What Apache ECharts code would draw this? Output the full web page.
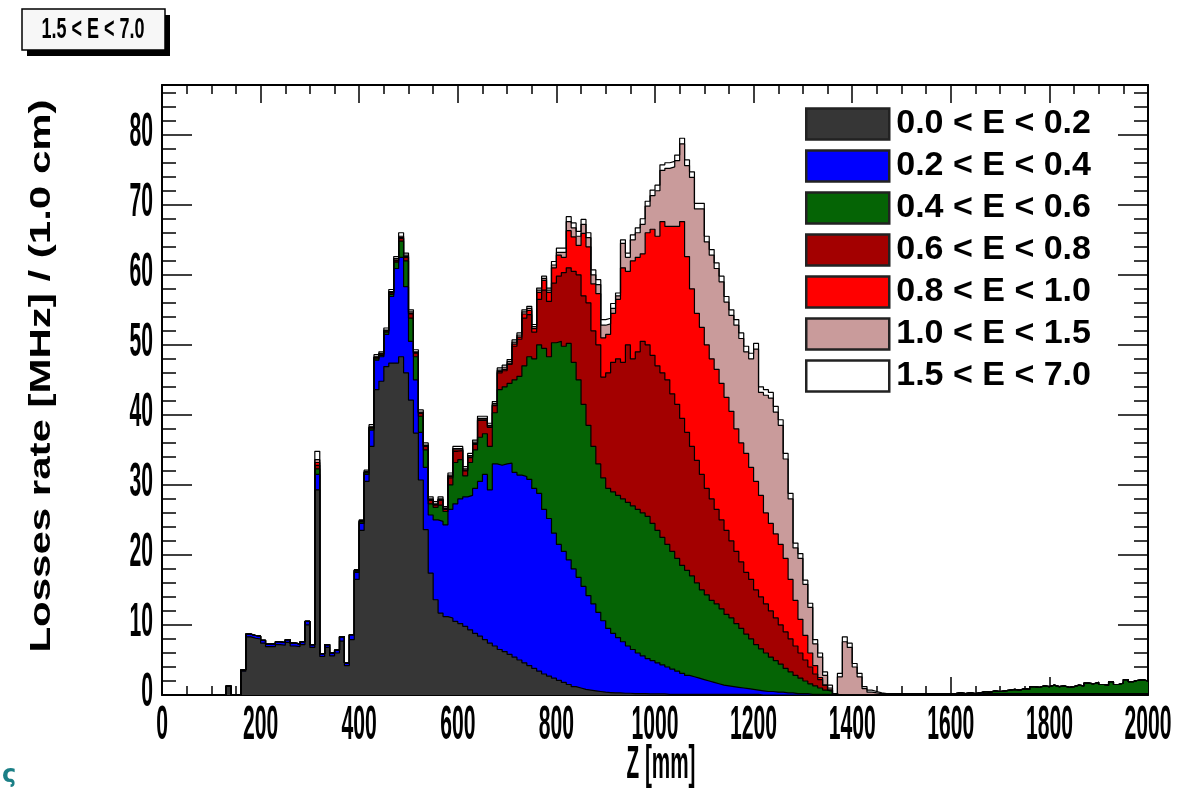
<!DOCTYPE html>
<html>
<head>
<meta charset="utf-8">
<script src="https://cdn.jsdelivr.net/npm/echarts@6/dist/echarts.min.js"></script>
<style>
html, body { margin: 0; padding: 0; background: #ffffff; }
#chart { width: 1201px; height: 789px; }
</style>
</head>
<body>
<div id="chart"></div>
<script>
// histogram bins: 10 mm wide, from Z = 0 to 2000 mm
var binWidth = 10;

var bandNames = ["0.0 < E < 0.2", "0.2 < E < 0.4", "0.4 < E < 0.6", "0.6 < E < 0.8",
	"0.8 < E < 1.0", "1.0 < E < 1.5", "1.5 < E < 7.0"];
var bandColors = ["#363636", "#0000ff", "#056405", "#a30000", "#ff0000", "#c99b9b", "#ffffff"];

var zTickLabels = [0, 200, 400, 600, 800, 1000, 1200, 1400, 1600, 1800, 2000];
var rateTickLabels = [0, 10, 20, 30, 40, 50, 60, 70, 80];

// upper edge of each stacked band (stack totals), one value per bin
var top02 = [
	0,0,0,0,0,0,0,0,0,0, 0,0,0,1.3,0,0,3.4,8.3,8.1,8.0,
	7.4,6.9,6.9,7.2,7.1,7.5,7.0,6.9,7.2,10.0, 6.8,29.3,5.5,6.8,5.6,6.0,7.7,4.2,7.9,16.5,
	23.5,30.5,35.5,43.6,44.8,46.9,47.4,47.4,48.3,46.0, 42.1,37.4,30.7,23.6,17.4,13.6,11.7,11.2,11.0,10.5,
	10.2,9.8,9.3,8.8,8.4,7.9,7.4,7.0,6.5,6.2, 5.8,5.4,5.0,4.6,4.2,3.8,3.4,3.0,2.7,2.4,
	2.1,1.8,1.5,1.2,1.0,0.8,0.7,0.6,0.5,0.4, 0.35,0.3,0.3,0.25,0.25,0.2,0.2,0.2,0.15,0.15,
	0.15,0.15,0.1,0.1,0.1,0.1,0.1,0.1,0.1,0.1, 0.1,0.1,0.1,0.1,0.1,0.1,0.1,0.1,0.1,0.1,
	0.1,0,0,0,0,0,0,0,0,0, 0,0,0,0,0,0,0,0,0,0,
	0,0,0,0,0,0,0.1,0.1,0.1,0.1, 0.1,0.1,0.1,0.1,0.1,0.1,0.1,0.1,0.1,0.1,
	0.1,0.1,0.1,0.1,0.1,0.1,0.1,0.1,0.1,0.1, 0.1,0.1,0.1,0.1,0.1,0.1,0.1,0.1,0.1,0.1,
	0.1,0.1,0.1,0.1,0.1,0.1,0.1,0.1,0.1,0.1, 0.1,0.1,0.1,0.1,0.1,0.1,0.1,0.1,0.1,0.1
];
var top04 = [
	0,0,0,0,0,0,0,0,0,0, 0,0,0,1.3,0,0,3.6,8.7,8.5,8.4,
	7.8,7.3,7.3,7.6,7.5,7.9,7.4,7.3,7.6,10.5, 7.2,31.5,5.9,7.2,6.0,6.4,8.3,4.6,8.6,17.5,
	24.5,31.5,37.8,47.8,48.3,51.5,56.9,60.9,62.5,58.3, 50.5,45.0,37.5,32.5,25.7,25.0,24.8,24.3,26.5,27.3,
	28.0,28.3,28.5,29.5,30.5,31.5,29.3,33.0,32.8,33.0, 33.1,31.8,31.4,31.2,30.8,29.5,28.8,26.5,25.2,23.1,
	21.5,20.5,19.3,18.0,16.8,15.5,14.2,13.0,11.8,10.6, 9.5,8.8,8.2,7.6,7.0,6.5,6.0,5.6,5.2,4.9,
	4.6,4.3,4.0,3.7,3.4,3.1,2.8,2.6,2.4,2.2, 2.0,1.8,1.6,1.4,1.3,1.2,1.1,1.0,0.9,0.8,
	0.7,0.6,0.5,0.5,0.4,0.4,0.3,0.3,0.2,0.2, 0.2,0.1,0.1,0.1,0.1,0.1,0.1,0,0,0,
	0,0,0,0,0,0,0.2,0.2,0.15,0.2, 0.2,0.2,0.15,0.2,0.2,0.2,0.2,0.15,0.2,0.2,
	0.2,0.3,0.2,0.3,0.2,0.3,0.2,0.2,0.2,0.2, 0.2,0.2,0.2,0.2,0.2,0.2,0.2,0.2,0.2,0.2,
	0.2,0.2,0.2,0.2,0.2,0.2,0.2,0.2,0.2,0.2, 0.2,0.2,0.2,0.2,0.2,0.2,0.2,0.2,0.2,0.2
];
var top06 = [
	0,0,0,0,0,0,0,0,0,0, 0,0,0,1.3,0,0,3.6,8.7,8.5,8.4,
	7.8,7.3,7.3,7.6,7.5,7.9,7.4,7.3,7.6,10.5, 7.2,32.3,5.9,7.2,6.0,6.4,8.3,4.6,8.6,17.7,
	24.7,31.7,38.0,48.0,48.5,51.8,57.2,61.8,64.8,62.0, 53.8,48.3,39.8,35.0,27.3,26.8,27.1,26.2,30.0,33.2,
	33.6,31.3,33.2,35.0,36.8,37.3,35.5,40.3,43.6,44.0, 44.5,45.0,45.5,47.0,48.3,48.0,50.0,49.5,48.3,50.3,
	50.5,49.8,50.2,47.5,45.0,41.5,38.5,35.5,33.0,31.0, 29.5,29.0,28.5,28.0,27.5,27.0,26.5,26.0,25.5,24.5,
	23.5,22.5,21.5,20.5,19.5,18.5,17.8,17.0,16.0,15.0, 14.3,13.5,13.0,12.3,11.5,11.0,10.2,9.5,8.7,8.0,
	7.2,6.6,6.0,5.4,4.9,4.4,3.8,3.3,2.8,2.4, 2.0,1.6,1.3,1.0,0.7,0.5,0.1,0,0,0,
	0,0,0,0,0,0,0.2,0.2,0.15,0.2, 0.2,0.2,0.15,0.2,0.2,0.2,0.2,0.15,0.2,0.2,
	0.2,0.3,0.2,0.3,0.2,0.3,0.5,0.4,0.6,0.5, 0.6,0.7,0.8,0.7,0.9,0.8,1.2,1.1,1.3,1.2,
	1.4,1.2,1.3,1.1,1.2,1.4,1.3,1.7,1.6,1.8, 1.5,1.4,1.9,1.5,1.7,2.2,1.9,2.1,2.2,2.0
];
var top08 = [
	0,0,0,0,0,0,0,0,0,0, 0,0,0,1.3,0,0,3.6,8.7,8.5,8.4,
	7.8,7.3,7.3,7.6,7.5,7.9,7.4,7.3,7.6,10.5, 7.2,32.8,5.9,7.2,6.0,6.4,8.3,4.6,8.6,17.8,
	24.8,31.8,38.2,48.2,48.7,52.0,57.4,62.0,65.2,62.5, 54.4,48.8,40.2,35.5,27.8,27.1,27.8,26.5,31.0,34.8,
	34.9,32.0,33.9,35.8,39.2,39.2,38.2,41.3,46.0,46.3, 47.2,49.8,50.8,53.8,54.3,51.8,56.5,57.8,56.2,58.8,
	59.8,60.3,61.0,60.5,60.0,57.0,56.0,52.0,50.0,45.4, 46.0,47.5,48.0,47.5,50.0,48.0,49.0,50.5,50.0,48.5,
	47.0,46.0,45.0,43.0,41.5,39.5,37.5,35.5,33.5,31.5, 29.5,28.0,26.5,25.0,23.5,22.0,20.5,19.0,17.5,16.5,
	15.0,14.0,13.0,12.0,11.0,10.0,9.0,8.0,7.0,6.0, 5.0,4.0,3.0,2.2,1.4,0.7,0.1,0,0,0,
	0,0,0,0,0,0,0.2,0.2,0.15,0.2, 0.2,0.2,0.15,0.2,0.2,0.2,0.2,0.15,0.2,0.2,
	0.2,0.3,0.2,0.3,0.2,0.3,0.5,0.4,0.6,0.5, 0.6,0.7,0.8,0.7,0.9,0.8,1.2,1.1,1.3,1.2,
	1.4,1.2,1.3,1.1,1.2,1.4,1.3,1.7,1.6,1.8, 1.5,1.4,1.9,1.5,1.7,2.2,1.9,2.1,2.2,2.0
];
var top10 = [
	0,0,0,0,0,0,0,0,0,0, 0,0,0,1.3,0,0,3.6,8.7,8.5,8.4,
	7.8,7.3,7.3,7.6,7.5,7.9,7.4,7.3,7.6,10.5, 7.2,33.2,5.9,7.2,6.0,6.4,8.3,4.6,8.6,17.8,
	24.8,31.8,38.2,48.2,48.7,52.0,57.5,62.1,65.3,62.6, 54.5,48.9,40.3,35.6,27.9,27.2,27.9,26.6,31.2,35.0,
	35.0,32.1,34.0,35.9,39.3,39.3,38.3,41.4,46.2,46.5, 47.3,50.1,51.1,54.4,54.9,52.3,57.5,59.2,57.5,61.0,
	62.8,62.5,66.3,65.4,64.2,65.9,64.0,58.7,57.3,51.0, 51.5,54.5,56.5,61.0,60.5,62.0,62.5,63.0,66.0,66.5,
	65.5,67.6,66.9,66.9,66.9,67.6,62.6,58.0,54.5,52.5, 50.0,48.0,46.5,44.5,42.5,40.5,38.0,36.0,34.5,32.5,
	30.5,28.5,26.0,24.5,23.0,21.5,19.5,16.5,13.5,10.8, 8.5,6.0,4.2,2.5,1.4,0.7,0.1,0,0,0,
	0,0,0,0,0,0,0.2,0.2,0.15,0.2, 0.2,0.2,0.15,0.2,0.2,0.2,0.2,0.15,0.2,0.2,
	0.2,0.3,0.2,0.3,0.2,0.3,0.5,0.4,0.6,0.5, 0.6,0.7,0.8,0.7,0.9,0.8,1.2,1.1,1.3,1.2,
	1.4,1.2,1.3,1.1,1.2,1.4,1.3,1.7,1.6,1.8, 1.5,1.4,1.9,1.5,1.7,2.2,1.9,2.1,2.2,2.0
];
var top15 = [
	0,0,0,0,0,0,0,0,0,0, 0,0,0,1.3,0,0,3.6,8.7,8.5,8.4,
	7.8,7.3,7.3,7.6,7.5,7.9,7.4,7.3,7.6,10.5, 7.2,33.6,5.9,7.2,6.0,6.4,8.3,4.6,8.6,17.8,
	24.9,31.9,38.3,48.3,48.8,52.1,57.6,62.3,65.5,62.8, 54.7,49.0,40.4,35.7,28.0,27.3,28.0,26.7,31.4,35.2,
	35.2,32.3,34.2,36.1,39.5,39.5,38.5,41.6,46.4,46.8, 47.6,50.4,51.4,54.7,55.2,52.6,57.8,59.5,57.8,61.4,
	63.2,63.2,67.6,66.7,65.5,67.2,65.3,60.0,58.6,52.8, 53.0,55.2,57.0,64.5,62.5,65.0,66.0,67.2,69.8,71.3,
	72.0,74.9,75.2,75.4,76.3,78.7,75.6,73.9,69.4,69.4, 64.7,62.8,60.9,59.0,56.1,54.2,52.8,50.9,49.0,48.0,
	49.4,43.2,42.8,42.4,40.4,38.5,33.7,28.0,21.0,19.5, 15.8,12.5,7.3,5.4,2.8,1.0,0.15,2.6,7.6,6.8,
	4.0,2.6,0.9,0.4,0.3,0.2,0.2,0.2,0.15,0.2, 0.2,0.2,0.15,0.2,0.2,0.2,0.2,0.15,0.2,0.2,
	0.2,0.3,0.2,0.3,0.2,0.3,0.5,0.4,0.6,0.5, 0.6,0.7,0.8,0.7,0.9,0.8,1.2,1.1,1.3,1.2,
	1.4,1.2,1.3,1.1,1.2,1.4,1.3,1.7,1.6,1.8, 1.5,1.4,1.9,1.5,1.7,2.2,1.9,2.1,2.2,2.0
];
var top70 = [
	0,0,0,0,0,0,0,0,0,0, 0,0,0,1.3,0,0,3.6,8.7,8.5,8.4,
	7.8,7.3,7.3,7.6,7.5,7.9,7.4,7.3,7.6,10.5, 7.2,34.8,5.9,7.2,6.0,6.4,8.3,4.6,8.6,17.9,
	25.0,32.1,38.6,48.6,49.0,52.4,57.9,62.6,66.0,63.1, 55.0,49.3,40.7,36.0,28.3,27.6,28.3,26.9,31.7,35.5,
	35.5,32.6,34.5,36.4,39.8,39.8,38.8,41.9,46.7,47.1, 47.9,50.7,51.7,55.0,55.5,52.9,58.1,59.8,58.1,61.9,
	63.8,63.8,68.3,67.4,66.2,67.9,66.0,60.7,59.3,53.6, 53.8,55.9,57.4,65.0,63.1,65.7,66.7,68.0,70.5,72.1,
	72.8,75.7,76.0,76.2,77.1,79.5,76.4,74.7,70.2,70.2, 65.5,63.6,61.7,59.8,56.9,55.0,53.6,51.7,49.8,48.8,
	50.2,44.0,43.6,43.2,41.2,39.3,34.5,28.8,21.7,20.2, 16.4,13.1,7.9,6.0,3.3,1.4,0.2,3.1,8.3,7.4,
	4.5,3.1,1.2,0.7,0.5,0.3,0.2,0.2,0.15,0.2, 0.2,0.2,0.15,0.2,0.2,0.2,0.2,0.15,0.2,0.2,
	0.2,0.3,0.2,0.3,0.2,0.3,0.5,0.4,0.6,0.5, 0.6,0.7,0.8,0.7,0.9,0.8,1.2,1.1,1.3,1.2,
	1.4,1.2,1.3,1.1,1.2,1.4,1.3,1.7,1.6,1.8, 1.5,1.4,1.9,1.5,1.7,2.2,1.9,2.1,2.2,2.0
];
var bandTops = [top02, top04, top06, top08, top10, top15, top70];

var zTicks = { min: 0, max: 2000, major: 200, minor: 50 };
var rateTicks = { min: 0, max: 87.1, major: 10, minor: 2 };

var boldSans = "'Liberation Sans', Arial, sans-serif";

// histogram outline: value of bin i holds from its low edge to the next edge
function histPoints(tops) {
	var pts = [];
	for (var i = 0; i < tops.length; i++) {
		pts.push([i * binWidth, tops[i]]);
	}
	pts.push([tops.length * binWidth, tops[tops.length - 1]]);
	return pts;
}

function makeAxis(kind, pos, step, len, withLine) {
	var r = kind === "x" ? zTicks : rateTicks;
	return {
		type: "value",
		position: pos,
		min: r.min,
		max: r.max,
		interval: step,
		axisLine: { show: withLine, onZero: false, lineStyle: { color: "#000", width: 2 } },
		axisTick: { show: true, inside: true, length: len, lineStyle: { color: "#000", width: 1.5 } },
		axisLabel: { show: false },
		splitLine: { show: false }
	};
}

var series = [];
for (var k = bandTops.length - 1; k >= 0; k--) {
	series.push({
		name: bandNames[k],
		type: "line",
		step: "end",
		data: histPoints(bandTops[k]),
		showSymbol: false,
		symbol: "none",
		color: bandColors[k],
		lineStyle: { color: "#000", width: 1.2 },
		areaStyle: { color: bandColors[k], opacity: 1 },
		xAxisIndex: 0,
		yAxisIndex: 0
	});
}

var chart = echarts.init(document.getElementById("chart"), null, { renderer: "canvas" });
chart.setOption({
	animation: false,
	backgroundColor: "#ffffff",
	grid: { left: 162, right: 53, top: 85, bottom: 94, outerBoundsMode: "none" },
	xAxis: [
		makeAxis("x", "bottom", zTicks.major, 18, true),
		makeAxis("x", "bottom", zTicks.minor, 9, false),
		makeAxis("x", "top", zTicks.major, 18, true),
		makeAxis("x", "top", zTicks.minor, 9, false)
	],
	yAxis: [
		makeAxis("y", "left", rateTicks.major, 30, true),
		makeAxis("y", "left", rateTicks.minor, 14, false),
		makeAxis("y", "right", rateTicks.major, 30, true),
		makeAxis("y", "right", rateTicks.minor, 14, false)
	],
	legend: {
		data: bandNames,
		orient: "vertical",
		left: 805,
		top: 107,
		padding: 0,
		icon: "rect",
		itemWidth: 83,
		itemHeight: 31,
		itemGap: 8,
		selectedMode: false,
		itemStyle: { borderColor: "#222", borderWidth: 2.5 },
		textStyle: { fontFamily: boldSans, fontWeight: "bold", fontSize: 34, lineHeight: 31, color: "#000", padding: [0, 0, 0, 2] }
	},
	series: series
});

// tick labels in ROOT's tall, narrow style, placed through the axis scales
var labels = [];
zTickLabels.forEach(function (v) {
	labels.push({
		type: "text", x: chart.convertToPixel({ xAxisIndex: 0 }, v), y: 726, scaleX: 0.44,
		style: { text: String(v), font: "bold 48px " + boldSans, fill: "#000", textAlign: "center", textVerticalAlign: "middle" }
	});
});
rateTickLabels.forEach(function (v) {
	labels.push({
		type: "text", x: 153, y: chart.convertToPixel({ yAxisIndex: 0 }, v) - 2, scaleX: 0.44,
		style: { text: String(v), font: "bold 48px " + boldSans, fill: "#000", textAlign: "right", textVerticalAlign: "middle" }
	});
});

chart.setOption({
	graphic: labels.concat([
		{ type: "rect", shape: { x: 27, y: 15, width: 143, height: 41 }, style: { fill: "#000" } },
		{ type: "rect", shape: { x: 22, y: 9, width: 143, height: 41 }, style: { fill: "#f7f7f7", stroke: "#000", lineWidth: 1.5 } },
		{ type: "text", x: 93, y: 30, scaleX: 0.6, style: { text: "1.5 < E < 7.0", font: "bold 30px " + boldSans, fill: "#000", textAlign: "center", textVerticalAlign: "middle" } },
		{ type: "text", x: 42, y: 376, rotation: Math.PI / 2, scaleX: 1.4, style: { text: "Losses rate [MHz] / (1.0 cm)", font: "bold 30px " + boldSans, fill: "#000", textAlign: "center", textVerticalAlign: "middle" } },
		{ type: "text", x: 661, y: 765, scaleX: 0.45, style: { text: "Z [mm]", font: "bold 46px " + boldSans, fill: "#000", textAlign: "center", textVerticalAlign: "middle" } },
		{ type: "text", x: 2, y: 776, style: { text: "ς", font: "bold 24px 'DejaVu Sans', sans-serif", fill: "#1b7f86", textAlign: "left", textVerticalAlign: "middle" } }
	])
});
</script>
</body>
</html>
